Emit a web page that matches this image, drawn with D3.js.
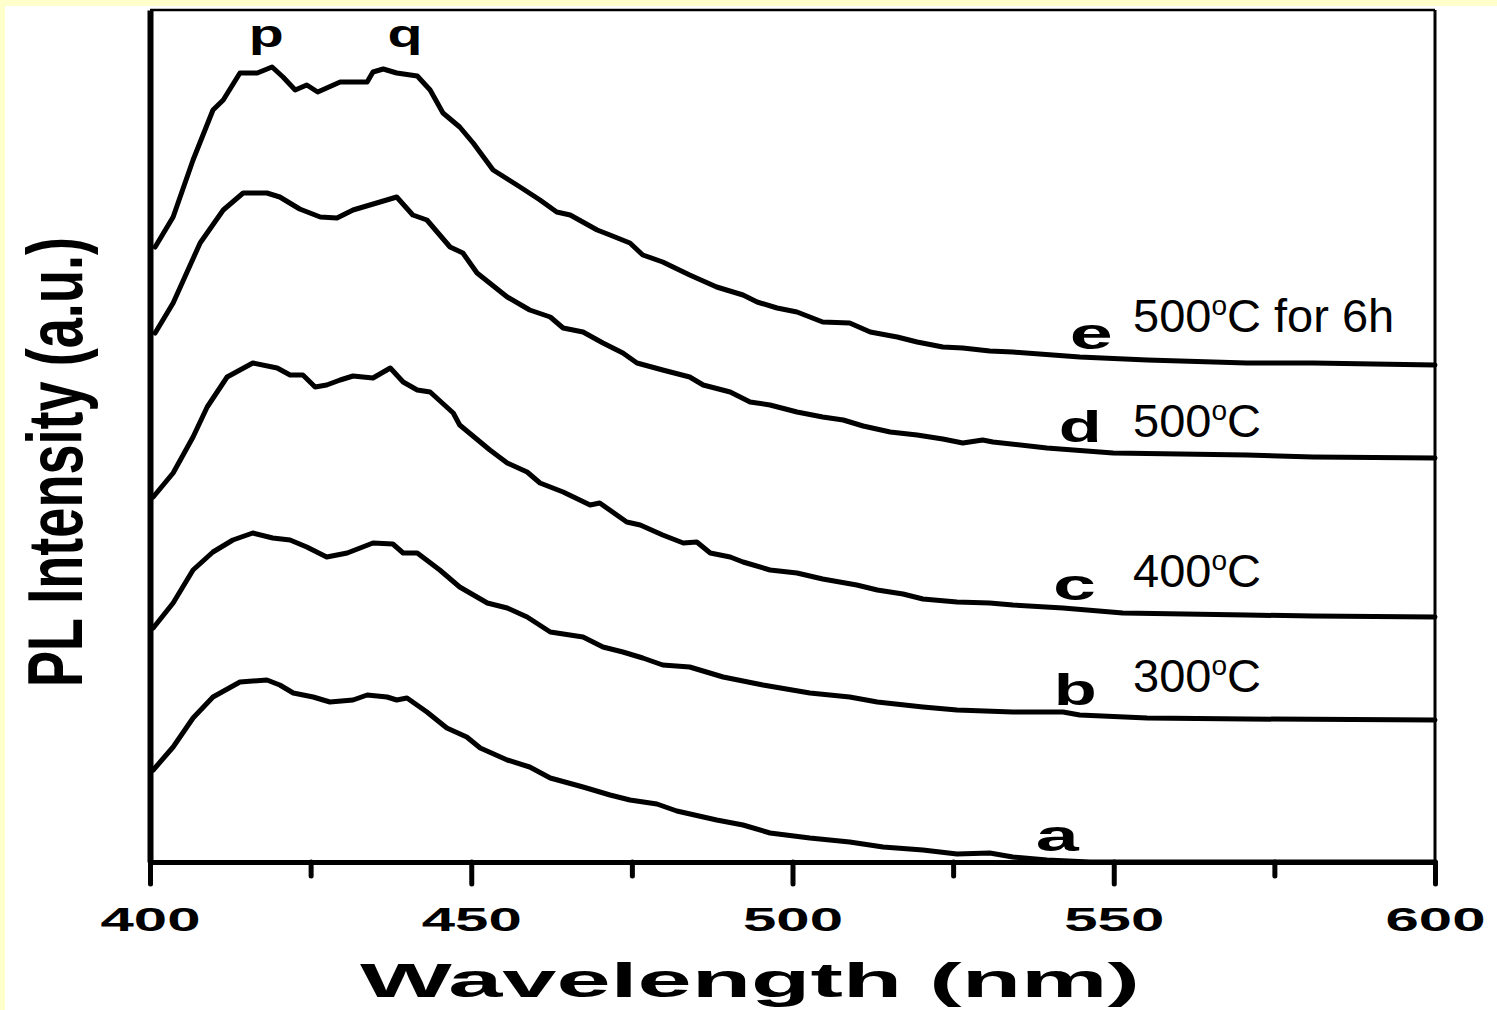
<!DOCTYPE html>
<meta charset="utf-8">
<style>
body { margin: 0; background: #ffffcc; }
svg { display: block; }
.curve { fill: none; stroke: #000; stroke-width: 5px; stroke-linejoin: round; stroke-linecap: round; }
text { font-family: "Liberation Sans", Arial, sans-serif; fill: #000; }
.axis path, .axis line { stroke: #000; }
</style>
<body>
<script src="https://d3js.org/d3.v7.min.js"></script>
<script>
// PL spectra: [wavelength (nm), intensity (a.u., stacked)]
var curveA = [[400.5,9.2],[403.6,11.5],[406.7,14.4],[409.8,16.5],[414.0,18.0],[418.2,18.2],[420.2,17.7],
  [422.3,16.9],[425.4,16.5],[428.0,16.0],[431.6,16.2],[433.8,16.7],[436.9,16.5],[438.4,16.2],[440.0,16.4],
  [443.1,15.0],[446.2,13.4],[449.3,12.5],[451.4,11.4],[455.6,10.2],[459.1,9.5],[462.3,8.4],[467.4,7.5],
  [471.6,6.7],[474.7,6.2],[478.9,5.8],[482.0,5.1],[488.2,4.2],[492.3,3.7],[496.5,2.9],[502.7,2.4],
  [508.9,2.0],[514.1,1.5],[520.3,1.2],[525.6,0.8],[530.7,0.9],[534.3,0.5],[539.6,0.2],[546.3,0.0],[600.0,0.0]];

var curveB = [[400.5,23.4],[403.6,25.9],[406.7,29.2],[409.8,31.0],[412.9,32.2],[416.0,32.9],[419.1,32.4],
  [421.8,32.2],[424.4,31.5],[427.5,30.5],[430.7,30.9],[434.7,31.9],[437.8,31.8],[439.4,30.9],[441.6,30.9],
  [445.1,29.2],[448.2,27.5],[452.5,25.9],[455.6,25.4],[458.7,24.5],[462.3,23.0],[467.4,22.5],[470.5,21.5],
  [473.6,21.0],[476.7,20.4],[479.8,19.7],[484.0,19.5],[489.2,18.5],[495.4,17.7],[502.7,16.9],[508.9,16.5],
  [513.2,16.0],[520.3,15.5],[525.6,15.2],[534.3,15.0],[542.1,15.0],[544.7,14.7],[555.2,14.4],[570.7,14.3],
  [600.0,14.2]];

var curveC = [[400.5,36.5],[403.6,38.9],[406.7,42.5],[408.9,45.5],[412.0,48.5],[416.0,49.9],[419.8,49.4],
  [421.8,48.7],[423.8,48.7],[425.7,47.5],[427.5,47.7],[429.6,48.2],[431.6,48.6],[434.7,48.4],[437.4,49.4],
  [439.4,48.0],[441.6,47.2],[443.6,47.0],[447.2,44.9],[448.2,43.7],[452.9,41.2],[455.6,39.9],[458.7,39.0],
  [460.7,37.9],[464.3,37.0],[468.5,35.7],[470.0,35.9],[474.2,34.0],[476.3,33.7],[479.8,32.7],[483.0,31.9],
  [485.1,32.0],[487.2,30.9],[490.3,30.5],[492.3,30.0],[496.5,29.2],[500.7,28.9],[504.7,28.3],[510.0,27.7],
  [513.2,27.2],[517.2,26.8],[520.3,26.3],[525.6,26.0],[530.7,25.9],[534.3,25.7],[542.1,25.4],[551.4,24.9],
  [570.7,24.7],[581.0,24.6],[600.0,24.5]];

var curveD = [[400.8,52.9],[403.6,55.9],[407.8,61.9],[411.4,65.2],[414.5,66.9],[418.2,66.9],[420.2,66.5],
  [423.3,65.3],[426.5,64.5],[429.1,64.4],[431.6,65.2],[435.8,66.0],[438.4,66.5],[440.9,64.7],[443.1,64.2],
  [446.7,61.5],[448.7,60.9],[450.9,58.9],[455.6,56.5],[459.1,55.2],[462.3,54.5],[464.3,53.4],[467.4,53.0],
  [470.5,51.9],[473.6,50.9],[475.8,49.9],[479.8,49.2],[484.0,48.5],[486.1,47.7],[490.3,47.0],[493.4,46.0],
  [496.5,45.7],[500.7,45.0],[504.7,44.5],[507.9,44.2],[511.0,43.6],[515.2,43.0],[519.4,42.7],[523.4,42.3],
  [526.5,41.9],[529.6,42.2],[531.2,42.0],[539.6,41.4],[549.9,40.9],[570.7,40.7],[581.0,40.5],[600.0,40.4]];

var curveE = [[400.8,61.5],[403.6,64.5],[406.7,70.2],[409.8,75.2],[411.4,76.2],[414.0,78.9],[416.7,78.9],
  [419.0,79.5],[420.7,78.5],[422.6,77.2],[424.4,77.7],[426.1,77.0],[429.6,78.0],[433.8,78.0],[434.7,79.0],
  [436.3,79.3],[438.4,78.9],[441.6,78.6],[443.6,77.2],[445.6,74.9],[448.2,73.5],[450.3,71.9],[453.4,69.2],
  [457.6,67.5],[460.7,66.2],[463.3,65.0],[465.4,64.7],[469.6,63.2],[471.6,62.7],[474.7,61.9],[476.7,60.7],
  [479.8,60.0],[484.0,58.7],[488.2,57.5],[492.3,56.7],[494.5,56.0],[497.6,55.4],[500.7,55.0],[504.7,54.0],
  [508.9,53.9],[512.1,53.0],[516.3,52.5],[519.4,52.0],[523.4,51.5],[526.5,51.4],[530.7,51.1],[534.3,51.0],
  [544.7,50.5],[555.2,50.2],[570.7,49.9],[581.0,49.9],[600.0,49.7]];

var curves = [curveA, curveB, curveC, curveD, curveE];
var curveNames = ["a", "b", "c", "d", "e"];
var nameWave = [541.2, 544.0, 543.9, 544.8, 546.5];

// temperature notes next to the curves
var tempValues = [null, "300", "400", "500", "500"];
var tempSuffix = ["", "", "", "", " for 6h"];
var tempLevel = [null, 17.0, 27.5, 42.5, 53.0];
var tempWave = 553;

var peakNames = ["p", "q"];
var peakWave = [418.1, 439.7];
var peakLevel = 81.5;

var majorTicks = [400, 450, 500, 550, 600];
var minorTicks = [425, 475, 525, 575];

var width = 1497, height = 1010;

var x = d3.scaleLinear().domain([400, 600]).range([150, 1435]);
var y = d3.scaleLinear().domain([0, 85.2]).range([862, 10]);

var svg = d3.select("body").append("svg")
    .attr("width", width)
    .attr("height", height);

// pale yellow frame shows at top / left
svg.append("rect")
    .attr("x", 5).attr("y", 6)
    .attr("width", width - 5).attr("height", height - 6)
    .attr("fill", "#fff");

var line = d3.line()
    .x(function(d) { return x(d[0]); })
    .y(function(d) { return y(d[1]); });

svg.selectAll("path.curve")
    .data(curves)
  .enter().append("path")
    .attr("class", "curve")
    .attr("d", line);

// value of a curve at a given wavelength
var bisect = d3.bisector(function(d) { return d[0]; }).left;
function valueAt(c, w) {
  var i = Math.max(1, Math.min(c.length - 1, bisect(c, w)));
  var a = c[i - 1], b = c[i];
  return a[1] + (b[1] - a[1]) * (w - a[0]) / (b[0] - a[0]);
}

// curve letters
svg.selectAll("text.cname")
    .data(curveNames)
  .enter().append("text")
    .attr("class", "cname")
    .attr("x", function(d, i) { return x(nameWave[i]); })
    .attr("y", function(d, i) { return y(valueAt(curves[i], nameWave[i])) - 9; })
    .attr("text-anchor", "middle")
    .attr("font-size", 44)
    .attr("font-weight", "bold")
    .attr("textLength", 43)
    .attr("lengthAdjust", "spacingAndGlyphs")
    .text(function(d) { return d; });

// temperature notes
curveNames.forEach(function(n, i) {
  if (tempValues[i] === null) return;
  var t = svg.append("text")
      .attr("x", x(tempWave))
      .attr("y", y(tempLevel[i]))
      .attr("font-size", 47);
  t.append("tspan").text(tempValues[i]);
  t.append("tspan").attr("font-size", 28).attr("dy", -17).text("o");
  t.append("tspan").attr("dy", 17).text("C" + tempSuffix[i]);
});

// peak marks
svg.selectAll("text.peak")
    .data(peakNames)
  .enter().append("text")
    .attr("class", "peak")
    .attr("x", function(d, i) { return x(peakWave[i]); })
    .attr("y", y(peakLevel))
    .attr("text-anchor", "middle")
    .attr("font-size", 39)
    .attr("font-weight", "bold")
    .attr("textLength", 35)
    .attr("lengthAdjust", "spacingAndGlyphs")
    .text(function(d) { return d; });

// frame: thin top and right lines
svg.append("line")
    .attr("x1", x(400)).attr("x2", x(600))
    .attr("y1", y(85.2)).attr("y2", y(85.2))
    .attr("stroke", "#000").attr("stroke-width", 2.5);
svg.append("line")
    .attr("x1", x(600)).attr("x2", x(600))
    .attr("y1", y(85.2)).attr("y2", y(0))
    .attr("stroke", "#000").attr("stroke-width", 3);

// minor x ticks
var minorAxis = svg.append("g")
    .attr("class", "axis")
    .attr("transform", "translate(0," + y(0) + ")")
    .call(d3.axisBottom(x).tickValues(minorTicks).tickSize(14).tickSizeOuter(0).tickFormat(""));
minorAxis.select(".domain").remove();
minorAxis.selectAll("line").attr("stroke-width", 5).attr("stroke-linecap", "round");

// major x ticks + labels
var xAxis = svg.append("g")
    .attr("class", "axis")
    .attr("transform", "translate(0," + y(0) + ")")
    .call(d3.axisBottom(x).tickValues(majorTicks).tickSize(22).tickSizeOuter(0).tickPadding(23));
xAxis.select(".domain").attr("stroke-width", 5);
xAxis.selectAll(".tick line").attr("stroke-width", 5).attr("stroke-linecap", "round");
xAxis.selectAll(".tick text")
    .attr("font-family", "'Liberation Sans', Arial, sans-serif")
    .attr("font-size", 34)
    .attr("font-weight", "bold")
    .attr("textLength", 100)
    .attr("lengthAdjust", "spacingAndGlyphs");

// left axis, thick line, no ticks
var yAxis = svg.append("g")
    .attr("class", "axis")
    .attr("transform", "translate(" + x(400) + ",0)")
    .call(d3.axisLeft(y).tickValues([]).tickSizeOuter(0));
yAxis.select(".domain").attr("stroke-width", 6);

// axis titles
svg.append("text")
    .attr("x", 750).attr("y", 997)
    .attr("text-anchor", "middle")
    .attr("font-size", 48)
    .attr("font-weight", "bold")
    .attr("textLength", 780)
    .attr("lengthAdjust", "spacingAndGlyphs")
    .text("Wavelength (nm)");

svg.append("text")
    .attr("transform", "translate(82,462) rotate(-90)")
    .attr("text-anchor", "middle")
    .attr("font-size", 78)
    .attr("font-weight", "bold")
    .attr("textLength", 450)
    .attr("lengthAdjust", "spacingAndGlyphs")
    .text("PL Intensity (a.u.)");
</script>
